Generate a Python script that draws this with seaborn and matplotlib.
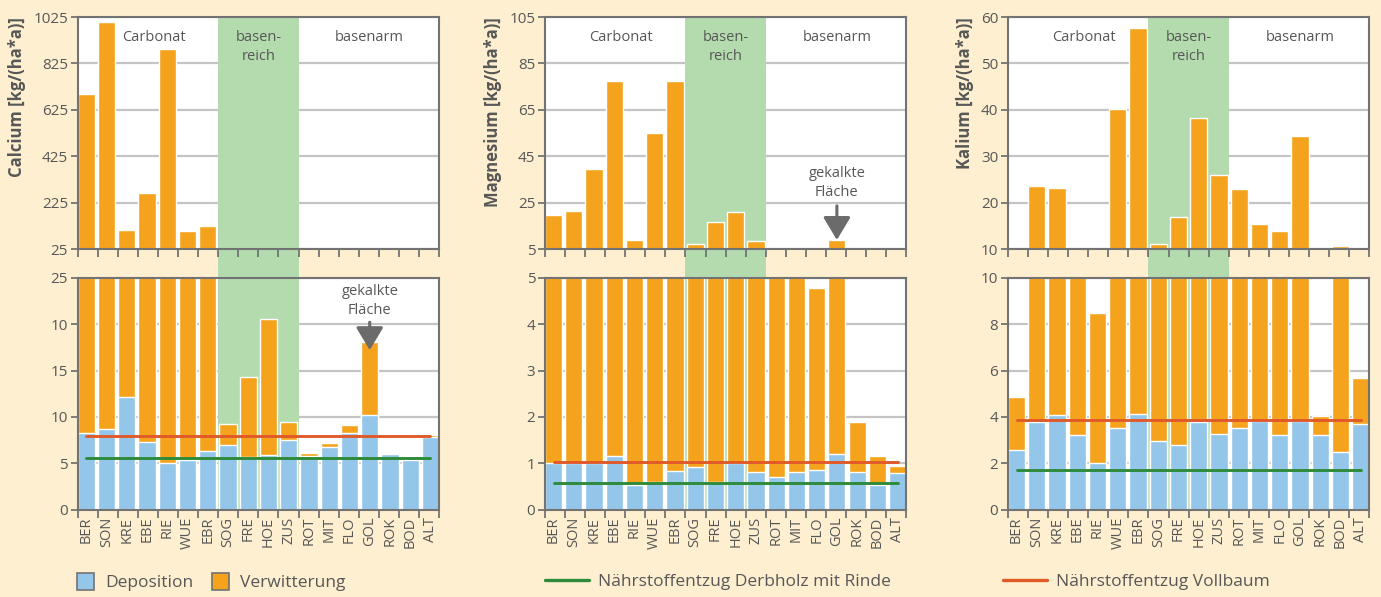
import numpy as np
import matplotlib
matplotlib.use("Agg")
import matplotlib.pyplot as plt
import seaborn as sns
from matplotlib.patches import Patch
from matplotlib.lines import Line2D

# ── daten ────────────────────────────────────────────────────────────────────
SITES = ["BER", "SON", "KRE", "EBE", "RIE", "WUE", "EBR", "SOG", "FRE",
         "HOE", "ZUS", "ROT", "MIT", "FLO", "GOL", "ROK", "BOD", "ALT"]

# Calcium [kg/(ha*a)]
CA_DEP  = [8.3, 8.7, 12.2, 7.3, 5.0, 5.4, 6.3, 7.0, 5.7,
           5.9, 7.5, 5.8, 6.8, 8.3, 10.2, 6.0, 5.4, 7.8]
CA_VERW = [684, 993, 95, 261, 882, 99, 118, 2.2, 8.6,
           14.7, 2.0, 0.3, 0.4, 0.8, 7.9, 0.1, 0.1, 0.2]
CA_DERB, CA_VOLL = 5.6, 7.95

# Magnesium
MG_DEP  = [1.0, 1.0, 1.0, 1.15, 0.53, 0.6, 0.83, 0.91, 0.6,
           1.0, 0.82, 0.71, 0.82, 0.86, 1.2, 0.82, 0.53, 0.79]
MG_VERW = [18.5, 20.5, 38.4, 76.2, 8.4, 54.2, 76.4, 6.1, 16.2,
           19.9, 7.8, 4.4, 4.3, 3.91, 7.7, 1.08, 0.62, 0.15]
MG_DERB, MG_VOLL = 0.57, 1.02

# Kalium
K_DEP  = [2.57, 3.79, 4.08, 3.22, 2.03, 3.53, 4.12, 2.96, 2.79,
          3.79, 3.28, 3.53, 3.82, 3.22, 3.82, 3.22, 2.5, 3.71]
K_VERW = [2.29, 19.8, 19.0, 6.8, 6.47, 36.6, 53.5, 8.1, 14.1,
          34.4, 22.6, 19.4, 11.6, 10.7, 30.5, 0.8, 8.1, 1.97]
K_DERB, K_VOLL = 1.73, 3.88

GROUPS = [("Carbonat", 3.35), ("basen-\nreich", 8.5), ("basenarm", 14.0)]

# ── stil ─────────────────────────────────────────────────────────────────────
BG      = "#FEEFD0"
ORANGE  = "#F5A31D"
BLUE    = "#93C6E9"
BAND    = "#B3DBAE"
RED     = "#E05A2A"
GREEN   = "#2E8B3A"
GRID    = "#C4C4C4"
SPINE   = "#737373"
TXT     = "#575757"
ARROW   = "#6B6B6B"

sns.set_theme(style="white")
plt.rcParams.update({
    "font.family": ["Open Sans", "DejaVu Sans"],
    "text.color": TXT, "axes.labelcolor": TXT,
    "xtick.color": SPINE, "ytick.color": SPINE,
    "xtick.labelcolor": TXT, "ytick.labelcolor": TXT,
})

W = 0.85
N = len(SITES)
XLIM = (-W / 2, N - 1 + W / 2)
EDGES = np.linspace(XLIM[0], XLIM[1], N + 1)
BAND_X = (EDGES[7], EDGES[11])

PANELS = [
    dict(label="Calcium [kg/(ha*a)]", dep=CA_DEP, verw=CA_VERW, derb=CA_DERB, voll=CA_VOLL,
         top=(25, 1025, 200), bot=(0, 25, 5), bot_labels=["0", "5", "10", "15", "10", "25"],
         left=0.0563),
    dict(label="Magnesium [kg/(ha*a)]", dep=MG_DEP, verw=MG_VERW, derb=MG_DERB, voll=MG_VOLL,
         top=(5, 105, 20), bot=(0, 5, 1), bot_labels=None, left=0.3946),
    dict(label="Kalium [kg/(ha*a)]", dep=K_DEP, verw=K_VERW, derb=K_DERB, voll=K_VOLL,
         top=(10, 60, 10), bot=(0, 10, 2), bot_labels=None, left=0.7299),
]

AX_W = 0.2616
AX_H = 0.3886
TOP_Y = 0.5829
BOT_Y = 0.1462
GAP_FRAC = (TOP_Y - (BOT_Y + AX_H)) / AX_H


def style_axes(ax, lo, hi, step):
    ax.set_facecolor("white")
    ax.set_xlim(*XLIM)
    ax.set_ylim(lo, hi)
    ax.set_yticks(np.arange(lo, hi + step / 2, step))
    ax.yaxis.grid(True, color=GRID, lw=1.6, zorder=0)
    ax.xaxis.grid(False)
    ax.set_axisbelow(True)
    for s in ax.spines.values():
        s.set_visible(True)
        s.set_color(SPINE)
        s.set_linewidth(1.5)
    ax.tick_params(axis="y", which="major", direction="out", length=5, width=1.3,
                   labelsize=11, pad=2, left=True)
    ax.set_xticks(EDGES, minor=True)
    ax.tick_params(axis="x", which="minor", direction="out", length=6, width=1.3, bottom=True)
    ax.set_xlabel("")
    ax.set_ylabel("")


def draw_bars(ax, dep, verw):
    total = [d + v for d, v in zip(dep, verw)]
    sns.barplot(x=SITES, y=total, order=SITES, color=ORANGE, saturation=1,
                width=W, errorbar=None, ax=ax, zorder=2)
    sns.barplot(x=SITES, y=dep, order=SITES, color=BLUE, saturation=1,
                width=W, errorbar=None, ax=ax, zorder=2)


def arrow(ax, x, y_text, y_from, y_to):
    ax.text(x, y_text, "gekalkte\nFläche", ha="center", va="center",
            fontsize=10.5, color=TXT, linespacing=1.35, zorder=5)
    ax.annotate("", xy=(x, y_to), xytext=(x, y_from),
                arrowprops=dict(arrowstyle="-|>,head_width=0.6,head_length=1.0",
                                mutation_scale=14, lw=2.2, color=ARROW,
                                shrinkA=0, shrinkB=0), zorder=5)


fig = plt.figure(figsize=(13.81, 5.97), dpi=100, facecolor=BG)

for i, p in enumerate(PANELS):
    ax_t = fig.add_axes([p["left"], TOP_Y, AX_W, AX_H])
    ax_b = fig.add_axes([p["left"], BOT_Y, AX_W, AX_H])
    ax_t.set_zorder(3)
    ax_b.set_zorder(2)

    # ── oben ──
    draw_bars(ax_t, p["dep"], p["verw"])
    style_axes(ax_t, *p["top"])
    ax_t.axvspan(*BAND_X, color=BAND, lw=0, zorder=1)
    ax_t.set_xticks(range(N))
    ax_t.tick_params(axis="x", which="major", length=0, labelbottom=False)
    ax_t.set_ylabel(p["label"], loc="top", fontsize=12, fontweight="bold",
                    color=TXT, labelpad=5)
    for name, gx in GROUPS:
        ax_t.text(gx, 0.945, name, transform=ax_t.get_xaxis_transform(),
                  ha="center", va="top", fontsize=10.5, color=TXT,
                  linespacing=1.35, zorder=5)

    # ── unten ──
    draw_bars(ax_b, p["dep"], p["verw"])
    style_axes(ax_b, *p["bot"])
    ax_b.axvspan(*BAND_X, ymin=0, ymax=1 + GAP_FRAC, color=BAND, lw=0,
                 zorder=1, clip_on=False)
    xs = np.arange(N)
    sns.lineplot(x=xs, y=[p["voll"]] * N, color=RED, lw=2.1, ax=ax_b, zorder=4)
    sns.lineplot(x=xs, y=[p["derb"]] * N, color=GREEN, lw=2.1, ax=ax_b, zorder=4)
    ax_b.set_xlim(*XLIM)
    ax_b.set_xticks(range(N))
    ax_b.set_xticklabels(SITES, rotation=90, fontsize=10.5, color=TXT)
    ax_b.tick_params(axis="x", which="major", length=0, pad=5)
    if p["bot_labels"]:
        ax_b.set_yticklabels(p["bot_labels"])

    if i == 0:
        arrow(ax_b, 14, 22.5, 20.2, 17.2)
    if i == 1:
        arrow(ax_t, 14, 33.5, 23.6, 8.9)

# ── legende ──────────────────────────────────────────────────────────────────
leg_kw = dict(frameon=False, fontsize=12.5, loc="center left", labelcolor=TXT)
fig.legend(handles=[Patch(facecolor=BLUE, edgecolor=SPINE, lw=1.2),
                    Patch(facecolor=ORANGE, edgecolor=SPINE, lw=1.2)],
           labels=["Deposition", "Verwitterung"], ncol=2,
           handlelength=1.0, handleheight=1.1, columnspacing=1.1,
           handletextpad=0.6, bbox_to_anchor=(0.0445, 0.025), **leg_kw)
fig.legend(handles=[Line2D([], [], color=GREEN, lw=2.4)],
           labels=["Nährstoffentzug Derbholz mit Rinde"], handlelength=2.55,
           handletextpad=0.5, bbox_to_anchor=(0.3834, 0.025), **leg_kw)
fig.legend(handles=[Line2D([], [], color=RED, lw=2.4)],
           labels=["Nährstoffentzug Vollbaum"], handlelength=2.55,
           handletextpad=0.5, bbox_to_anchor=(0.715, 0.025), **leg_kw)

fig.savefig("out.png", dpi=100, facecolor=BG)
